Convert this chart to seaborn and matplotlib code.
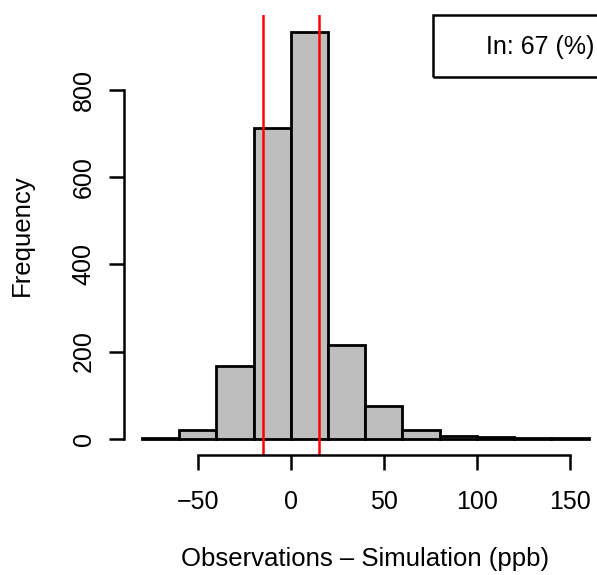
import matplotlib
matplotlib.use("Agg")
import matplotlib.pyplot as plt
import seaborn as sns
import numpy as np
from matplotlib.patches import Rectangle

sns.set_style("white")
plt.rcParams['font.family'] = ['Liberation Sans', 'DejaVu Sans']
plt.rcParams['text.color'] = 'black'
plt.rcParams['axes.labelcolor'] = 'black'

bin_edges = [-80, -60, -40, -20, 0, 20, 40, 60, 80, 100, 120, 140, 160]
counts = [1, 21, 168, 713, 933, 216, 76, 21, 6, 3, 1, 1]
vlines = [-15, 15]
xticks = [-50, 0, 50, 100, 150]
yticks = [0, 200, 400, 600, 800]
legend_text = "In: 67 (%)"
xlabel = "Observations \u2013 Simulation (ppb)"
ylabel = "Frequency"

centers = [(a + b) / 2 for a, b in zip(bin_edges[:-1], bin_edges[1:])]

FS = 18
W, H = 597, 575
fig = plt.figure(figsize=(W / 100, H / 100), dpi=100)
ax = fig.add_axes([124 / W, (H - 455) / H, (606.5 - 124) / W, (455 - 15) / H])

sns.histplot(x=centers, weights=counts, bins=bin_edges, ax=ax,
             color="#BEBEBE", edgecolor="black", linewidth=2.0, alpha=1)

for v in vlines:
    ax.axvline(v, color="red", linewidth=1.8, clip_on=True)

ax.set_xlim(-89.6, 169.6)
ax.set_ylim(-37.4, 972.4)
ax.set_xticks(xticks)
ax.set_yticks(yticks)
ax.set_xticklabels([("\u2212" + str(-t)) if t < 0 else str(t) for t in xticks])
ax.set_yticklabels([str(t) for t in yticks], rotation=90, va="center")

for s in ["top", "right"]:
    ax.spines[s].set_visible(False)
ax.spines["left"].set_bounds(0, 800)
ax.spines["bottom"].set_bounds(-50, 150)
for s in ["left", "bottom"]:
    ax.spines[s].set_linewidth(1.8)
    ax.spines[s].set_color("black")

ax.tick_params(axis="both", bottom=True, left=True, direction="out", length=11,
               width=1.8, colors="black", labelsize=FS)
ax.tick_params(axis="x", pad=14)
ax.tick_params(axis="y", pad=9.5)

ax.set_xlabel(xlabel, fontsize=FS + 0.5, labelpad=24)
ax.set_ylabel(ylabel, fontsize=FS + 0.5, labelpad=27)

# legend box (top-right, partially beyond the figure edge)
fig.patches.append(Rectangle((433 / W, (H - 77) / H), 200 / W, 62 / H,
                             transform=fig.transFigure, fill=False,
                             edgecolor="black", linewidth=1.8))
fig.text(594 / W, (H - 47) / H, legend_text, ha="right", va="center", fontsize=FS)

fig.savefig("out.png", dpi=100)
